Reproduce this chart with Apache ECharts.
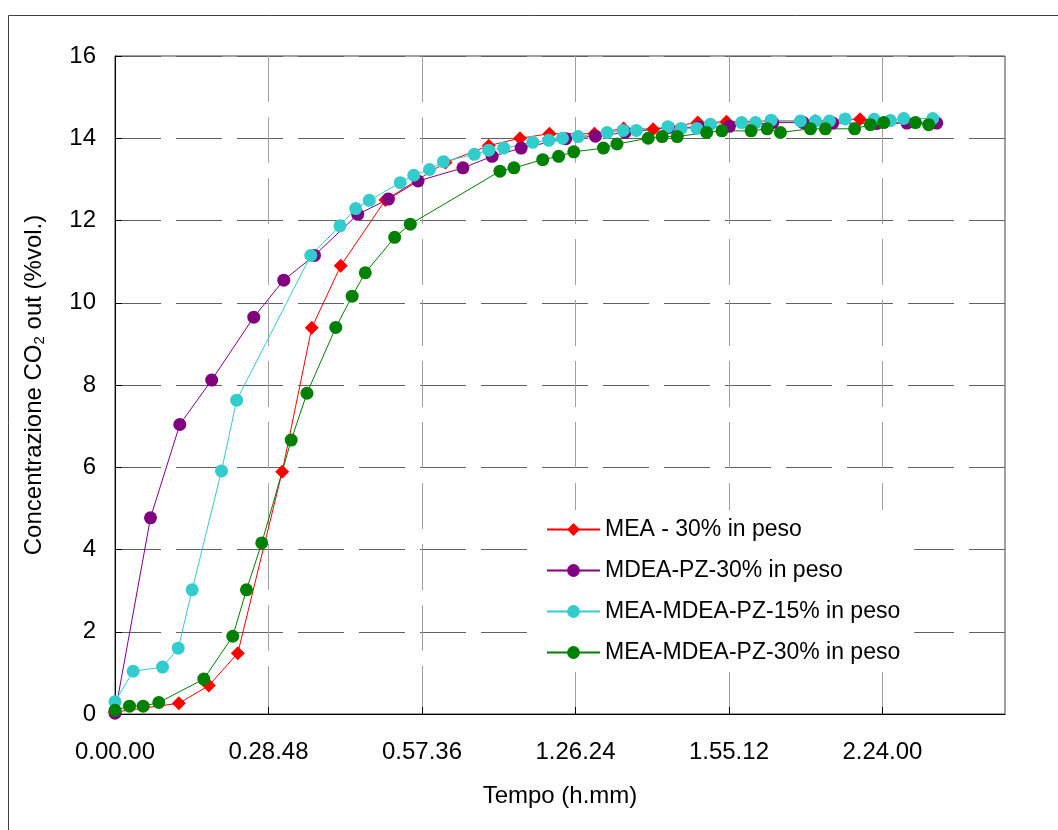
<!DOCTYPE html>
<html>
<head>
<meta charset="utf-8">
<script src="https://cdn.jsdelivr.net/npm/echarts@6/dist/echarts.min.js"></script>
<style>
  html, body { margin: 0; padding: 0; background: #fff; }
  #chart { width: 1058px; height: 830px; }
</style>
</head>
<body>
<div id="chart"></div>
<script>
// tempo in minuti, concentrazione CO2 in %vol.
var meaT = [0, 11.97, 17.6, 23.04, 31.37, 36.92, 42.36, 50.75, 62.0, 70.13, 75.99, 81.52, 89.96, 95.44, 100.97, 109.35, 114.73, 123.2, 131.4, 139.78]
var meaC = [0.05, 0.26, 0.69, 1.48, 5.89, 9.39, 10.9, 12.5, 13.41, 13.82, 14.0, 14.11, 14.11, 14.24, 14.22, 14.38, 14.4, 14.42, 14.42, 14.46]

var mdeaT = [0, 6.66, 12.16, 18.14, 26.04, 31.67, 37.43, 45.55, 51.31, 56.87, 65.29, 70.77, 76.21, 84.58, 90.15, 95.72, 103.85, 109.53, 115.29, 123.42, 129.14, 134.67, 142.97, 148.59, 154.19]
var mdeaC = [0.02, 4.77, 7.04, 8.12, 9.65, 10.55, 11.15, 12.15, 12.52, 12.96, 13.28, 13.56, 13.76, 13.99, 14.05, 14.14, 14.26, 14.27, 14.29, 14.38, 14.38, 14.37, 14.36, 14.37, 14.37]

var mix15T = [0, 3.41, 8.91, 11.86, 14.48, 19.98, 22.83, 36.74, 42.21, 45.16, 47.71, 53.53, 56.06, 59.01, 61.63, 67.41, 70.13, 72.93, 78.39, 81.39, 83.96, 86.91, 92.35, 95.35, 97.85, 103.72, 106.23, 109.16, 111.73, 117.58, 120.17, 123.12, 128.61, 131.43, 134.06, 137.0, 142.44, 145.5, 148.0, 153.44]
var mix15C = [0.3, 1.04, 1.14, 1.6, 3.02, 5.91, 7.63, 11.15, 11.87, 12.29, 12.49, 12.92, 13.1, 13.24, 13.43, 13.61, 13.71, 13.76, 13.9, 13.95, 14.0, 14.04, 14.14, 14.19, 14.19, 14.28, 14.24, 14.24, 14.34, 14.38, 14.38, 14.44, 14.42, 14.42, 14.42, 14.47, 14.46, 14.43, 14.48, 14.48]

var mix30T = [0, 2.72, 5.29, 8.22, 16.66, 22.1, 24.67, 27.54, 33.06, 36.02, 41.43, 44.5, 46.96, 52.48, 55.41, 72.23, 74.86, 80.26, 83.25, 86.08, 91.65, 94.19, 100.04, 102.67, 105.5, 111.03, 113.89, 119.36, 122.37, 124.86, 130.49, 133.3, 138.78, 141.75, 144.24, 150.19, 152.68]
var mix30C = [0.09, 0.19, 0.19, 0.28, 0.85, 1.89, 3.02, 4.16, 6.66, 7.8, 9.4, 10.16, 10.73, 11.59, 11.91, 13.2, 13.28, 13.48, 13.56, 13.67, 13.76, 13.86, 14.0, 14.04, 14.04, 14.14, 14.18, 14.18, 14.23, 14.14, 14.23, 14.23, 14.23, 14.33, 14.38, 14.38, 14.33]

var seriesNames = ["MEA - 30% in peso", "MDEA-PZ-30% in peso", "MEA-MDEA-PZ-15% in peso", "MEA-MDEA-PZ-30% in peso"]
var seriesColors = ["#ff0000", "#800080", "#33cccc", "#008000"]

function pairs(t, c) { return t.map(function(v, i) { return [v, c[i]] }) }
function pad(n) { return (n < 10 ? "0" : "") + n }
function hms(m) {
    var k = m / 28.8
    if (Math.abs(k - Math.round(k)) > 1e-6) return ""
    var s = Math.round(m * 60), h = Math.floor(s / 3600), mm = Math.floor((s % 3600) / 60)
    return h + "." + pad(mm) + "." + pad(s % 60)
}

var font = "Liberation Sans, Arial, sans-serif"
var chart = echarts.init(document.getElementById("chart"))

function line(name, color, data, symbol, size) {
    return {
        name: name, type: "line", data: data, symbol: symbol, symbolSize: size,
        itemStyle: {color: color}, lineStyle: {color: color, width: 1},
        emphasis: {disabled: true}, animation: false,
    }
}

chart.setOption({
    backgroundColor: "#fff",
    textStyle: {fontFamily: font},
    graphic: [{type: "rect", shape: {x: 8.5, y: 15.5, width: 1100, height: 900}, style: {fill: "none", stroke: "#404040", lineWidth: 1}, silent: true}],
    grid: {left: 115, top: 56, right: 53, bottom: 116, show: true, borderColor: "#404040", borderWidth: 1, backgroundColor: "transparent"},
    legend: {
        orient: "vertical", left: 536, top: 510, backgroundColor: "#fff", padding: [8, 14, 8, 10],
        itemWidth: 53, itemHeight: 16, itemGap: 18,
        textStyle: {fontFamily: font, fontSize: 23, color: "#000"},
        data: seriesNames,
    },
    xAxis: {
        type: "value", min: 0, max: 167, interval: 28.8,
        name: "Tempo (h.mm)", nameLocation: "middle", nameGap: 70,
        nameTextStyle: {fontFamily: font, fontSize: 24, color: "#000"},
        axisLine: {lineStyle: {color: "#000", width: 1}},
        axisTick: {inside: true, length: 7, lineStyle: {color: "#000"}},
        axisLabel: {margin: 26, fontFamily: font, fontSize: 24, color: "#000", formatter: hms, showMaxLabel: false},
        splitLine: {show: true, lineStyle: {color: "#a0a0a0", width: 1, type: [46, 15]}},
    },
    yAxis: {
        type: "value", min: 0, max: 16, interval: 2,
        name: "Concentrazione CO{sub|2} out (%vol.)", nameLocation: "middle", nameGap: 68,
        nameTextStyle: {fontFamily: font, fontSize: 24, color: "#000", rich: {sub: {fontFamily: font, fontSize: 15, color: "#000", verticalAlign: "bottom", padding: [10, 0, 0, 0]}}},
        axisLine: {lineStyle: {color: "#000", width: 1}},
        axisTick: {inside: true, length: 7, lineStyle: {color: "#000"}},
        axisLabel: {margin: 19, fontFamily: font, fontSize: 24, color: "#000"},
        splitLine: {show: true, lineStyle: {color: "#606060", width: 1, type: [46, 15]}},
    },
    series: [
        line(seriesNames[0], seriesColors[0], pairs(meaT, meaC), "diamond", 14),
        line(seriesNames[1], seriesColors[1], pairs(mdeaT, mdeaC), "circle", 13),
        line(seriesNames[2], seriesColors[2], pairs(mix15T, mix15C), "circle", 13),
        line(seriesNames[3], seriesColors[3], pairs(mix30T, mix30C), "circle", 13),
    ],
})
</script>
</body>
</html>
